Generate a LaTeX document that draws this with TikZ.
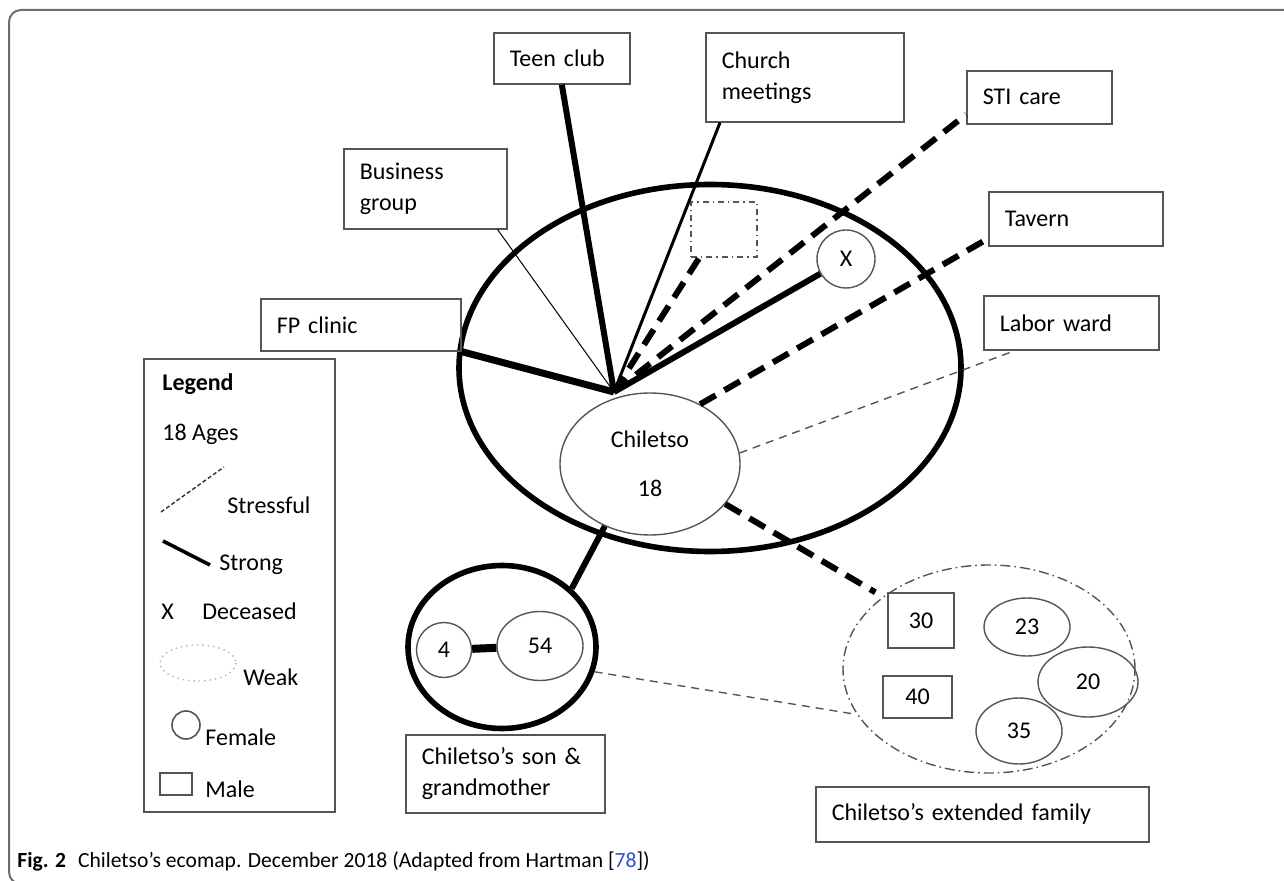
\documentclass[tikz,border=0pt]{standalone}
\usepackage{fontspec}
\setmainfont{Carlito}
\usetikzlibrary{shapes.geometric}
\definecolor{boxgray}{RGB}{85,85,85}
\definecolor{framegray}{RGB}{110,110,110}
\definecolor{linkblue}{RGB}{40,80,210}

\begin{document}
\begin{tikzpicture}[x=0.5pt, y=-0.5pt,
	box/.style = {draw=boxgray, line width=0.8pt, anchor=north west, align=left, inner xsep=8pt, inner ysep=0pt, font=\fontsize{12}{15.5}\selectfont},
	person/.style = {draw=boxgray, line width=0.7pt, inner sep=0pt, font=\fontsize{12}{15.5}\selectfont},
	strong/.style = {line width=3pt},
	stress/.style = {line width=3pt, dash pattern=on 9pt off 5pt},
	thinstress/.style = {draw=boxgray, line width=0.7pt, dash pattern=on 4pt off 3pt},
	legtext/.style = {anchor=base west, inner sep=0pt, font=\fontsize{12}{15.5}\selectfont}]

	\useasboundingbox (0,0) rectangle (1284,881);
	\draw[framegray, line width=1pt, rounded corners=6pt] (1290,10) -- (9,10) -- (9,884) -- (40,884);

	\node[draw, ellipse, line width=2.8pt, minimum width=251pt, minimum height=183.5pt] (env) at (710,368) {};

	\node[box, text width=52pt, minimum height=25.5pt] (teen) at (493,32) {Teen club};
	\node[box, text width=83pt, minimum height=44.5pt] (church) at (705,32) {Church\\meetings};
	\node[box, text width=65.5pt, minimum height=40pt] (business) at (343,148) {Business\\group};
	\node[box, text width=84pt, minimum height=26pt] (fp) at (260,298) {FP clinic};
	\node[box, text width=56.5pt, minimum height=26.5pt] (sti) at (966,70) {STI care};
	\node[box, text width=71pt, minimum height=27pt] (tavern) at (988,191) {Tavern};
	\node[box, text width=71.5pt, minimum height=27pt] (labor) at (983,295) {Labor ward};
	\node[box, text width=83.5pt, minimum height=39pt] (sonbox) at (405,734) {Chiletso’s son \&\\grandmother};
	\node[box, text width=150.5pt, minimum height=27.5pt] (ext) at (815,786) {Chiletso’s extended family};

	\node[draw=boxgray, line width=0.7pt, dash dot, minimum width=33pt, minimum height=27.5pt, inner sep=0pt] (absent) at (724,229.5) {};
	\node[person, circle, minimum size=29pt] (dec) at (846,259) {X};
	\node[person, ellipse, minimum width=90pt, minimum height=71pt, align=center] (chil) at (650,464) {Chiletso\\[9pt]18};
	\coordinate (hub) at (614,392);

	\node[draw, ellipse, line width=2.8pt, minimum width=94pt, minimum height=81.5pt] (sonring) at (502,647) {};
	\node[person, circle, minimum size=27.5pt] (g4) at (444,650) {4};
	\node[person, ellipse, minimum width=43pt, minimum height=34.5pt] (g54) at (540,646) {54};

	\node[draw=boxgray, line width=0.7pt, dash pattern=on 5pt off 2pt on 0.8pt off 2pt, ellipse, minimum width=146pt, minimum height=104pt] (fam) at (989,669) {};
	\node[person, rectangle, minimum width=33pt, minimum height=27.5pt] (m30) at (921,620.5) {30};
	\node[person, rectangle, minimum width=34.5pt, minimum height=21pt] (m40) at (917.5,697) {40};
	\node[person, ellipse, minimum width=43pt, minimum height=29pt] (f23) at (1027,627) {23};
	\node[person, ellipse, minimum width=50pt, minimum height=35pt] (f20) at (1088,682) {20};
	\node[person, ellipse, minimum width=43pt, minimum height=33pt] (f35) at (1019,731) {35};

	\draw[strong] (hub) -- (teen.south);
	\draw[line width=1.5pt] (hub) -- ([xshift=7.5pt]church.south west);
	\draw[line width=0.5pt] (hub) -- ([xshift=-5pt]business.south east);
	\draw[line width=3.5pt] (hub) -- (fp.south east);
	\draw[stress] (hub) -- ([xshift=4.5pt]absent.south west);
	\draw[stress] (hub) -- ([yshift=5pt]sti.south west);
	\draw[strong] (hub) -- (dec);
	\draw[stress] (chil.50) -- ([yshift=4pt]tavern.south west);
	\draw[thinstress] (chil.7) -- ([xshift=16pt]labor.south west);
	\draw[stress] (chil.-28) -- ([xshift=-6pt]m30.north west);
	\draw[strong] (chil.-126) -- (sonring.40);
	\draw[line width=4pt] (g4) -- (g54);
	\draw[thinstress] (sonring.-15) -- (fam.199);

	\draw[boxgray, line width=0.8pt] (144,359) rectangle (335,812);
	\node[legtext, font=\fontsize{12}{15.5}\selectfont\bfseries] (legtitle) at (162,391) {Legend};
	\node[legtext] (legages) at (162,441) {18 Ages};
	\draw[black!80, line width=0.7pt, dash pattern=on 2pt off 1.2pt] (161,512) -- (224,467);
	\node[legtext] (legstress) at (227,514) {Stressful};
	\draw[line width=1.8pt] (163,541) -- (210,565);
	\node[legtext] (legstrong) at (219,570) {Strong};
	\node[legtext] (legx) at (161,619) {X};
	\node[legtext] (legdec) at (202,619) {Deceased};
	\draw[gray!60, line width=0.7pt, dotted] (198,663) ellipse [x radius=38, y radius=18];
	\node[legtext] (legweak) at (243,685) {Weak};
	\draw[boxgray, line width=0.8pt] (186,725) circle [radius=14];
	\node[legtext] (legfem) at (205,745) {Female};
	\draw[boxgray, line width=0.8pt] (160,773) rectangle (192,795);
	\node[legtext] (legmale) at (205,797) {Male};

	\node[anchor=base west, inner sep=0pt, font=\fontsize{10.8}{12}\selectfont] (caption) at (17,867) {\textbf{Fig. 2}\hspace{6pt}Chiletso’s ecomap. December 2018 (Adapted from Hartman [{\color{linkblue}78}])};
\end{tikzpicture}
\end{document}
